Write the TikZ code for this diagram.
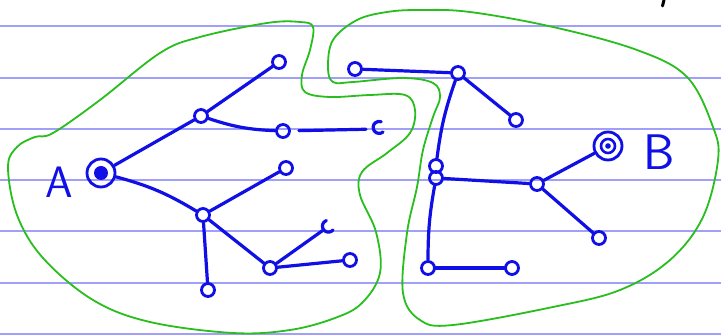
\documentclass[tikz,border=0pt]{standalone}
\definecolor{inkblue}{RGB}{15,15,230}
\definecolor{blobgreen}{RGB}{40,190,30}
\definecolor{rulecol}{RGB}{160,160,250}
\begin{document}
\begin{tikzpicture}[x=1pt,y=-1pt,
  dot/.style={circle,draw=inkblue,line width=2.8pt,minimum size=13pt,inner sep=0pt},
  bigdot/.style={circle,draw=inkblue,line width=2.8pt,minimum size=28pt,inner sep=0pt},
  edge/.style={draw=inkblue,line width=3.2pt,line cap=round},
  blob/.style={draw=blobgreen,line width=1.8pt},
  rulel/.style={draw=rulecol,line width=1.8pt},
  lbl/.style={text=inkblue,font=\sffamily\fontsize{44}{44}\selectfont,inner sep=0pt}]
\useasboundingbox[fill=white] (0,0) rectangle (721,336);
% ruled lines
\foreach \y in {26,78,129,180,231,283,334} \draw[rulel] (0,\y) -- (721,\y);
% green regions
\draw[blob] plot[smooth cycle,tension=0.6] coordinates {
 (313,27) (310,50) (302,75) (305,92) (330,97) (370,95) (405,95) (415,110)
 (410,133) (387,153) (362,172) (360,195) (376,232) (380,273) (362,303)
 (335,318) (290,330) (233,333) (150,322) (93,300) (43,258) (17,215) (8,167)
 (17,147) (35,137) (53,133) (100,100) (160,53) (200,37) (267,23) (300,22)};
\draw[blob] plot[smooth cycle,tension=0.6] coordinates {
 (357,20) (333,40) (328,67) (333,82) (353,82) (403,78) (433,83) (440,97)
 (433,117) (423,150) (417,187) (407,233) (403,293) (420,320) (453,325)
 (553,307) (620,290) (670,260) (703,217) (718,160) (713,127) (687,77)
 (637,50) (553,27) (470,12) (420,10) (387,12)};
% left tree
\node[bigdot] (A) at (101,173) {};
\fill[inkblue] (A.center) circle (7);
\node[lbl] (lA) at (59,182) {A};
\node[dot] (n1) at (201,116) {};
\node[dot] (n1a) at (279,62) {};
\node[dot] (n1b) at (283,131) {};
\node[dot,draw=none] (n1c) at (378,129) {};
\draw[edge] ([xshift=5pt,yshift=-3pt]n1c.center) arc[start angle=50,end angle=290,radius=6];
\node[dot] (n2) at (203,215) {};
\node[dot] (n2a) at (286,168) {};
\node[dot] (n2b) at (270,268) {};
\node[dot] (n2c) at (208,290) {};
\node[dot,draw=none] (n2d) at (329,226) {};
\draw[edge] ([xshift=4pt,yshift=-4pt]n2d.center) arc[start angle=40,end angle=250,radius=6];
\node[dot] (n2e) at (350,260) {};
\draw[edge] (A) -- (n1);
\draw[edge] (n1) -- (n1a);
\draw[edge] (n1) to[bend right=8] (n1b);
\draw[edge,shorten <=8pt,shorten >=4pt] (n1b) -- (n1c);
\draw[edge] (A) to[bend left=8] (n2);
\draw[edge] (n2) -- (n2a);
\draw[edge] (n2) -- (n2b);
\draw[edge] (n2) -- (n2c);
\draw[edge] (n2b) -- (n2d);
\draw[edge] (n2b) -- (n2e);
% right tree
\node[dot] (m0) at (355,69) {};
\node[dot] (m1) at (458,73) {};
\node[dot] (m1a) at (516,120) {};
\node[dot] (m2) at (436,166) {};
\node[dot] (m2b) at (436,178) {};
\node[dot] (m3) at (428,268) {};
\node[dot] (m3a) at (512,268) {};
\node[dot] (m4) at (537,184) {};
\node[dot] (m4a) at (599,238) {};
\node[bigdot] (B) at (608,146) {};
\draw[inkblue,line width=2.6pt] (B.center) circle (7);
\fill[inkblue] (B.center) circle (2.8);
\node[lbl,font=\sffamily\fontsize{50}{50}\selectfont] (lB) at (659,152) {B};
\draw[edge] (m0) -- (m1);
\draw[edge] (m1) -- (m1a);
\draw[edge] (m1) to[bend right=6] (m2);
\draw[edge] (m2b) to[bend right=5] (m3);
\draw[edge] (m3) -- (m3a);
\draw[edge] (m2b) -- (m4);
\draw[edge] (m4) -- (B);
\draw[edge] (m4) -- (m4a);
% small black mark at top
\draw[black,line width=3pt,line cap=round] (664,0) -- (662.5,6);
\end{tikzpicture}
\end{document}
